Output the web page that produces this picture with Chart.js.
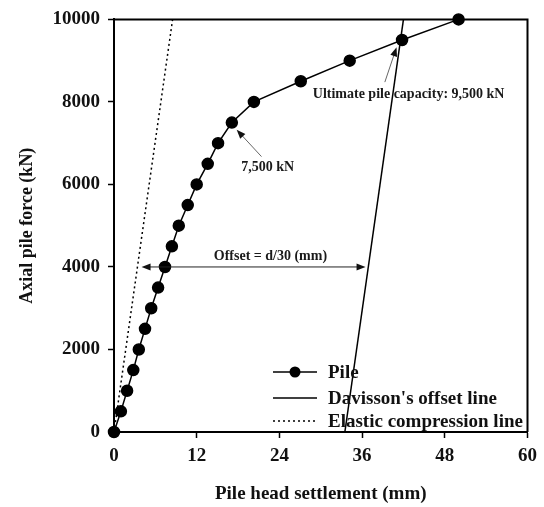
<!DOCTYPE html>
<html>
<head>
<meta charset="utf-8">
<script src="https://cdn.jsdelivr.net/npm/chart.js@4/dist/chart.umd.min.js"></script>
<style>
  html, body { margin: 0; padding: 0; background: #fff; }
  #wrap { width: 544px; height: 507px; }
</style>
</head>
<body>
<div id="wrap"><canvas id="grafico" width="544" height="507"></canvas></div>
<script>
// dados
const settlement = [0, 1.0, 1.9, 2.8, 3.6, 4.5, 5.4, 6.4, 7.4, 8.4, 9.4, 10.7, 12.0, 13.6, 15.1, 17.1, 20.3, 27.1, 34.2, 41.8, 50.0];
const axialForce = [0, 500, 1000, 1500, 2000, 2500, 3000, 3500, 4000, 4500, 5000, 5500, 6000, 6500, 7000, 7500, 8000, 8500, 9000, 9500, 10000];
const davissonX = [33.5, 42.0];
const davissonY = [0, 10000];
const elasticX = [0, 8.5];
const elasticY = [0, 10000];
const xTicks = [0, 12, 24, 36, 48, 60];
const yTicks = [0, 2000, 4000, 6000, 8000, 10000];
const legendLabels = ['Pile', "Davisson's offset line", 'Elastic compression line'];

const serif = '"Liberation Serif", "Times New Roman", serif';
const toPts = (xs, ys) => xs.map((x, i) => ({ x: x, y: ys[i] }));

function arrowHead(ctx, x1, y1, x2, y2, len, half) {
  const a = Math.atan2(y2 - y1, x2 - x1);
  ctx.beginPath();
  ctx.moveTo(x2, y2);
  ctx.lineTo(x2 - len * Math.cos(a) + half * Math.sin(a), y2 - len * Math.sin(a) - half * Math.cos(a));
  ctx.lineTo(x2 - len * Math.cos(a) - half * Math.sin(a), y2 - len * Math.sin(a) + half * Math.cos(a));
  ctx.closePath();
  ctx.fill();
}

// moldura + anotações + legenda
const extras = {
  id: 'extras',
  beforeDatasetsDraw(chart) {
    const { ctx, chartArea: a } = chart;
    ctx.save();
    ctx.strokeStyle = '#000';
    ctx.lineWidth = 2;
    ctx.beginPath();
    ctx.moveTo(a.left, a.top);
    ctx.lineTo(a.right, a.top);
    ctx.lineTo(a.right, a.bottom);
    ctx.stroke();
    ctx.restore();
  },
  afterDatasetsDraw(chart) {
    const { ctx } = chart;
    const sx = chart.scales.x, sy = chart.scales.y;
    const px = v => sx.getPixelForValue(v);
    const py = v => sy.getPixelForValue(v);
    ctx.save();

    // seta do offset
    const ox1 = px(4.0), ox2 = px(36.5), oy = py(4000);
    ctx.strokeStyle = '#222';
    ctx.fillStyle = '#111';
    ctx.lineWidth = 1;
    ctx.beginPath();
    ctx.moveTo(ox1 + 6, oy);
    ctx.lineTo(ox2 - 6, oy);
    ctx.stroke();
    arrowHead(ctx, ox2, oy, ox1, oy, 9, 3.5);
    arrowHead(ctx, ox1, oy, ox2, oy, 9, 3.5);

    // setas das anotações
    ctx.strokeStyle = '#666';
    ctx.fillStyle = '#111';
    const arrows = [
      [21.4, 6675, 17.8, 7325],
      [39.3, 8480, 41.0, 9325]
    ];
    arrows.forEach(([x1, y1, x2, y2]) => {
      const X1 = px(x1), Y1 = py(y1), X2 = px(x2), Y2 = py(y2);
      ctx.beginPath();
      ctx.moveTo(X1, Y1);
      ctx.lineTo(X2 - (X2 - X1) * 0.2, Y2 - (Y2 - Y1) * 0.2);
      ctx.stroke();
      arrowHead(ctx, X1, Y1, X2, Y2, 9, 3.5);
    });

    ctx.fillStyle = '#1a1a1a';
    ctx.font = 'bold 14px ' + serif;
    ctx.textAlign = 'center';
    ctx.textBaseline = 'middle';
    ctx.fillText('Offset = d/30 (mm)', px(22.7), py(4265));
    ctx.fillText('7,500 kN', px(22.3), py(6410));
    ctx.fillText('Ultimate pile capacity: 9,500 kN', px(42.75), py(8190));

    // legenda
    const rows = [372, 398, 421];
    const lx1 = 273, lx2 = 317, tx = 328;
    ctx.strokeStyle = '#000';
    ctx.lineWidth = 1.5;
    rows.forEach((ry, i) => {
      ctx.beginPath();
      if (i === 2) ctx.setLineDash([2, 3]);
      else ctx.setLineDash([]);
      ctx.moveTo(lx1, ry);
      ctx.lineTo(lx2, ry);
      ctx.stroke();
      if (i === 0) {
        ctx.fillStyle = '#000';
        ctx.beginPath();
        ctx.arc((lx1 + lx2) / 2, ry, 5.5, 0, Math.PI * 2);
        ctx.fill();
      }
    });
    ctx.setLineDash([]);
    ctx.fillStyle = '#111';
    ctx.font = 'bold 19px ' + serif;
    ctx.textAlign = 'left';
    legendLabels.forEach((t, i) => ctx.fillText(t, tx, rows[i] + 1));
    ctx.restore();
  }
};

const ctx = document.getElementById('grafico').getContext('2d');
new Chart(ctx, {
  type: 'scatter',
  data: {
    datasets: [
      {
        label: legendLabels[0],
        data: toPts(settlement, axialForce),
        showLine: true,
        borderColor: '#000',
        borderWidth: 1.5,
        pointRadius: 5.5,
        pointBackgroundColor: '#000',
        pointBorderColor: '#000',
        clip: false
      },
      {
        label: legendLabels[1],
        data: toPts(davissonX, davissonY),
        showLine: true,
        borderColor: '#000',
        borderWidth: 1.5,
        pointRadius: 0
      },
      {
        label: legendLabels[2],
        data: toPts(elasticX, elasticY),
        showLine: true,
        borderColor: '#000',
        borderWidth: 1.5,
        borderDash: [2, 3],
        pointRadius: 0
      }
    ]
  },
  options: {
    responsive: false,
    animation: false,
    layout: { padding: { left: 0, top: 15, right: 16, bottom: 0 } },
    plugins: { legend: { display: false }, tooltip: { enabled: false } },
    scales: {
      x: {
        type: 'linear',
        min: 0, max: 60,
        afterBuildTicks: s => { s.ticks = xTicks.map(v => ({ value: v })); },
        afterFit: s => { s.height = 75; },
        border: { display: true, color: '#000', width: 2 },
        grid: { drawOnChartArea: false, drawTicks: true, tickLength: 6, tickColor: '#000', tickWidth: 1.5 },
        ticks: { color: '#111', padding: 7, callback: v => String(v), font: { family: serif, size: 19, weight: 'bold' } },
        title: {
          display: true, text: 'Pile head settlement (mm)', color: '#111',
          font: { family: serif, size: 19, weight: 'bold' },
          padding: { top: 0, bottom: 2 }
        }
      },
      y: {
        type: 'linear',
        min: 0, max: 10000,
        afterBuildTicks: s => { s.ticks = yTicks.map(v => ({ value: v })); },
        afterFit: s => { s.width = 114; },
        border: { display: true, color: '#000', width: 2 },
        grid: { drawOnChartArea: false, drawTicks: true, tickLength: 6, tickColor: '#000', tickWidth: 1.5 },
        ticks: { color: '#111', padding: 8, callback: v => String(v), font: { family: serif, size: 19, weight: 'bold' } },
        title: {
          display: true, text: 'Axial pile force (kN)', color: '#111',
          font: { family: serif, size: 18, weight: 'bold' },
          padding: { top: 17, bottom: 0 }
        }
      }
    }
  },
  plugins: [extras]
});
</script>
</body>
</html>
